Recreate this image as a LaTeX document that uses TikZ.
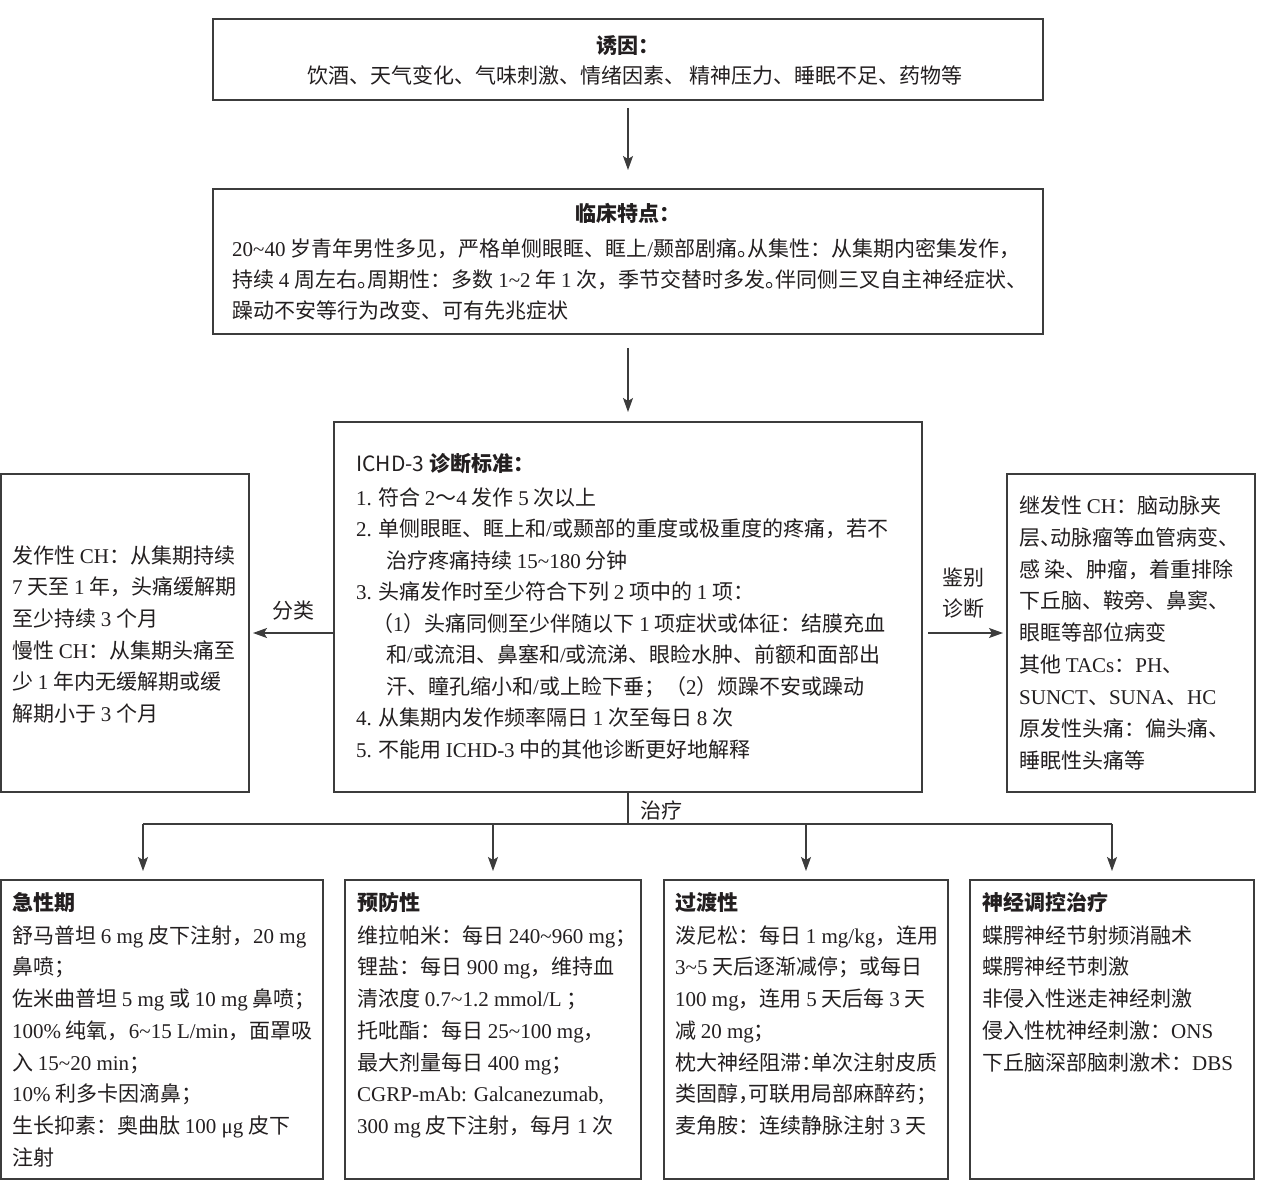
\documentclass[tikz,border=0pt]{standalone}
\usepackage{fontspec}
\setmainfont{Noto Sans CJK SC}
\newfontfamily\latin{Liberation Serif}
\newfontfamily\cjkhaltf[RawFeature=+halt]{Noto Sans CJK SC}
\usetikzlibrary{arrows.meta}
\newcommand\E[1]{{\latin #1}}
\newcommand\T{\textasciitilde}
\newcommand\h[1]{{\cjkhaltf #1}}
\newcommand\sr{\rule{0pt}{20pt}}
\definecolor{ink}{HTML}{231F20}
\definecolor{edge}{HTML}{3C3C3C}

\begin{document}
\begin{tikzpicture}[x=1pt,y=-1pt,
  box/.style={draw=edge,line width=1.3pt,inner sep=0pt,outer sep=0pt},
  conn/.style={draw=edge,line width=1.3pt},
  arr/.style={conn,-{Stealth[length=14pt,width=10pt,inset=3pt]}},
  txt/.style={text=ink,inner sep=0pt,font=\fontsize{21}{25}\selectfont},
  ttl/.style={text=ink,inner sep=0pt,font=\fontsize{21}{25}\selectfont\bfseries},
  body/.style={text=ink,inner sep=0pt,align=left,anchor=north west,font=\fontsize{21}{#1}\selectfont},
]
\useasboundingbox (0,0) rectangle (1261,1191);
\fill[white] (0,0) rectangle (1261,1191);

% boxes
\node[box,minimum width=830pt,minimum height=81pt]  (top)  at (628,59.5) {};
\node[box,minimum width=830pt,minimum height=145pt] (clin) at (628,261.5) {};
\node[box,minimum width=588pt,minimum height=370pt] (cen)  at (628,607) {};
\node[box,minimum width=248pt,minimum height=318pt] (lbox) at (125,633) {};
\node[box,minimum width=248pt,minimum height=318pt] (rbox) at (1131,633) {};
\node[box,minimum width=322pt,minimum height=299pt] (b1) at (162,1029.5) {};
\node[box,minimum width=296pt,minimum height=299pt] (b2) at (493,1029.5) {};
\node[box,minimum width=284pt,minimum height=299pt] (b3) at (806,1029.5) {};
\node[box,minimum width=284pt,minimum height=299pt] (b4) at (1112,1029.5) {};

% connectors
\draw[arr,shorten <=8pt,shorten >=19pt] (top) -- (clin);
\draw[arr,shorten <=14pt,shorten >=10pt] (clin) -- (cen);
\draw[arr,shorten >=4pt] (cen.west |- lbox.east) -- (lbox.east);
\draw[arr,shorten <=6pt,shorten >=4pt] (cen.east |- rbox.west) -- (rbox.west);
\coordinate (hub) at (628,824);
\coordinate (bl) at (143,824);
\coordinate (br) at (b4.north |- hub);
\draw[conn] (cen.south) -- (hub);
\draw[conn] (bl) -- (br);
\draw[arr,shorten >=9pt] (bl) -- (bl |- b1.north);
\draw[arr,shorten >=9pt] (b2.north |- hub) -- (b2.north);
\draw[arr,shorten >=9pt] (b3.north |- hub) -- (b3.north);
\draw[arr,shorten >=9pt] (br) -- (b4.north);

% connector labels
\node[txt,anchor=base] (lfl) at (293,618) {分类};
\node[txt,anchor=base] (ljb1) at (963,585) {鉴别};
\node[txt,anchor=base] (ljb2) at (963,616) {诊断};
\node[txt,anchor=base west] (lzl) at (640,818) {治疗};

% top box
\node[ttl,anchor=base] (t1) at (628,53) {诱因：};
\node[txt,anchor=base] (t2) at (635,83) {饮酒、天气变化、气味刺激、情绪因素、 精神压力、睡眠不足、药物等};

% clinical box
\node[ttl,anchor=base] (c1) at (628,221) {临床特点：};
\node[body=31] (c2) at (232,236) {\sr\E{20\T40} 岁青年男性多见，严格单侧眼眶、眶上\E{/}颞部剧痛\h{。}从集性：从集期内密集发作，\\
持续 \E{4} 周左右\h{。}周期性：多数 \E{1\T2} 年 \E{1} 次，季节交替时多发\h{。}伴同侧三叉自主神经症状、\\
躁动不安等行为改变、可有先兆症状};

% central box
\node[ttl,anchor=base west] (e1) at (356,471) {{\mdseries ICHD-3} 诊断标准：};
\node[body=31.5] (e2) at (356,485) {\sr\E{1.} 符合 \E{2}～\E{4} 发作 \E{5} 次以上\\
\E{2.} 单侧眼眶、眶上和\E{/}或颞部的重度或极重度的疼痛，若不\\
\hspace*{30pt}治疗疼痛持续 \E{15\T180} 分钟\\
\E{3.} 头痛发作时至少符合下列 \E{2} 项中的 \E{1} 项：\\
\hspace*{16pt}（\E{1}）头痛同侧至少伴随以下 \E{1} 项症状或体征：结膜充血\\
\hspace*{30pt}和\E{/}或流泪、鼻塞和\E{/}或流涕、眼睑水肿、前额和面部出\\
\hspace*{30pt}汗、瞳孔缩小和\E{/}或上睑下垂；（\E{2}）烦躁不安或躁动\\
\E{4.} 从集期内发作频率隔日 \E{1} 次至每日 \E{8} 次\\
\E{5.} 不能用 \E{ICHD-3} 中的其他诊断更好地解释};

% left box
\node[body=31.6] (l1) at (12,543) {\sr 发作性 \E{CH}：从集期持续\\
\E{7} 天至 \E{1} 年，头痛缓解期\\
至少持续 \E{3} 个月\\
慢性 \E{CH}：从集期头痛至\\
少 \E{1} 年内无缓解期或缓\\
解期小于 \E{3} 个月};

% right box
\node[body=31.9] (r1) at (1019,493) {\sr 继发性 \E{CH}：脑动脉夹\\
层\h{、}动脉瘤等血管病变、\\
感 染、肿瘤，着重排除\\
下丘脑、鞍旁、鼻窦、\\
眼眶等部位病变\\
其他 \E{TACs}：\E{PH}、\\
\E{SUNCT}、\E{SUNA}、\E{HC}\\
原发性头痛：偏头痛、\\
睡眠性头痛等};

% bottom boxes
\node[ttl,anchor=base west] (p1) at (12,910) {急性期};
\node[body=31.7] (q1) at (12,923) {\sr 舒马普坦 \E{6 mg} 皮下注射，\E{20 mg}\\
鼻喷；\\
佐米曲普坦 \E{5 mg} 或 \E{10 mg} 鼻喷；\\
\E{100\%} 纯氧，\E{6\T15 L/min}，面罩吸\\
入 \E{15\T20 min}；\\
\E{10\%} 利多卡因滴鼻；\\
生长抑素：奥曲肽 \E{100 μg} 皮下\\
注射};

\node[ttl,anchor=base west] (p2) at (357,910) {预防性};
\node[body=31.7] (q2) at (357,923) {\sr 维拉帕米：每日 \E{240\T960 mg}；\\
锂盐：每日 \E{900 mg}，维持血\\
清浓度 \E{0.7\T1.2 mmol/L} ；\\
托吡酯：每日 \E{25\T100 mg}，\\
最大剂量每日 \E{400 mg}；\\
\E{CGRP-mAb: Galcanezumab,}\\
\E{300 mg} 皮下注射，每月 \E{1} 次};

\node[ttl,anchor=base west] (p3) at (675,910) {过渡性};
\node[body=31.7] (q3) at (675,923) {\sr 泼尼松：每日 \E{1 mg/kg}，连用\\
\E{3\T5} 天后逐渐减停；或每日\\
\E{100 mg}，连用 \E{5} 天后每 \E{3} 天\\
减 \E{20 mg}；\\
枕大神经阻滞\h{：}单次注射皮质\\
类固醇\h{，}可联用局部麻醉药；\\
麦角胺：连续静脉注射 \E{3} 天};

\node[ttl,anchor=base west] (p4) at (982,910) {神经调控治疗};
\node[body=31.7] (q4) at (982,923) {\sr 蝶腭神经节射频消融术\\
蝶腭神经节刺激\\
非侵入性迷走神经刺激\\
侵入性枕神经刺激：\E{ONS}\\
下丘脑深部脑刺激术：\E{DBS}};
\end{tikzpicture}
\end{document}
